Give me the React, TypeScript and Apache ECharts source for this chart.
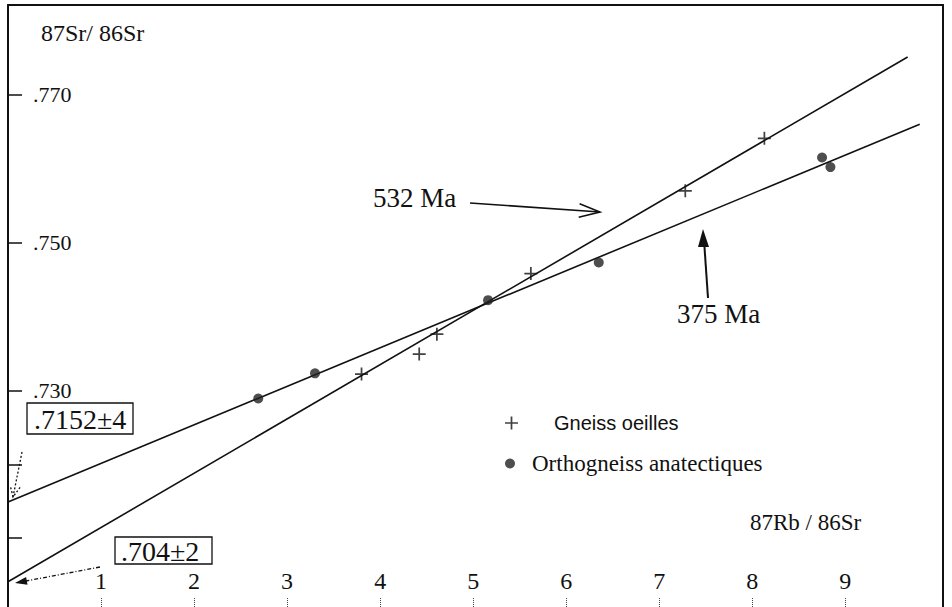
import React, { useEffect, useRef } from "react";
import * as echarts from "echarts";

// ---- data ----
const gneissX = [3.8, 4.42, 4.61, 5.62, 7.28, 8.13];
const gneissY = [0.7322, 0.7349, 0.7376, 0.7458, 0.757, 0.7641];

const orthoX = [2.69, 3.3, 5.16, 6.35, 8.75, 8.84];
const orthoY = [0.7289, 0.7323, 0.7422, 0.7473, 0.7615, 0.7602];

const iso532X = [0, 9.67];
const iso532Y = [0.7041, 0.7751];
const iso375X = [0, 9.8];
const iso375Y = [0.7149, 0.766];

const xTickValues = [1, 2, 3, 4, 5, 6, 7, 8, 9];
const yTickValues = [0.71, 0.72, 0.73, 0.75, 0.77];
const yLabelValues = [0.73, 0.75, 0.77];

const X_MIN = 0;
const X_MAX = 10.05;
const Y_MIN = 0.70069;
const Y_MAX = 0.78213;

const SERIF = '"Liberation Serif", "Times New Roman", serif';
const SANS = '"Liberation Sans", Arial, sans-serif';
const INK = "#111";

const PLUS = "path://M5.2,0H6.8V5.2H12V6.8H6.8V12H5.2V6.8H0V5.2H5.2Z";

const zip = (xs: number[], ys: number[]) => xs.map((x, i) => [x, ys[i]]);

export default function App() {
  const ref = useRef<HTMLDivElement>(null);

  useEffect(() => {
    if (!ref.current) return;
    const chart = echarts.init(ref.current, null, { renderer: "svg" });

    const option: any = {
      animation: false,
      backgroundColor: "#fff",
      grid: { left: 8, right: 9, top: 5, bottom: 0, containLabel: false },
      xAxis: [
        {
          type: "value",
          min: X_MIN,
          max: X_MAX,
          position: "bottom",
          axisLine: { show: false, onZero: false },
          splitLine: { show: false },
          axisTick: {
            show: true,
            inside: true,
            length: 10,
            customValues: xTickValues,
            lineStyle: { color: "#444", width: 1, type: "dotted" },
          },
          axisLabel: {
            inside: true,
            margin: 14,
            customValues: xTickValues,
            fontFamily: SERIF,
            fontSize: 24,
            color: INK,
          },
        },
        {
          type: "value",
          min: X_MIN,
          max: X_MAX,
          position: "top",
          axisLine: { show: true, onZero: false, lineStyle: { color: INK, width: 2 } },
          axisTick: { show: false },
          axisLabel: { show: false },
          splitLine: { show: false },
        },
      ],
      yAxis: [
        {
          type: "value",
          min: Y_MIN,
          max: Y_MAX,
          position: "left",
          axisLine: { show: true, onZero: false, lineStyle: { color: INK, width: 2 } },
          splitLine: { show: false },
          axisTick: {
            show: true,
            inside: true,
            length: 14,
            customValues: yTickValues,
            lineStyle: { color: INK, width: 1.5 },
          },
          axisLabel: {
            inside: true,
            margin: 25,
            customValues: yLabelValues,
            formatter: (v: number) => v.toFixed(3).replace(/^0/, ""),
            fontFamily: SERIF,
            fontSize: 22,
            color: INK,
          },
        },
        {
          type: "value",
          min: Y_MIN,
          max: Y_MAX,
          position: "right",
          axisLine: { show: true, onZero: false, lineStyle: { color: INK, width: 2 } },
          axisTick: { show: false },
          axisLabel: { show: false },
          splitLine: { show: false },
        },
      ],
      legend: [
        {
          data: [{ name: "Gneiss oeilles", icon: PLUS }],
          left: 505,
          top: 413,
          padding: 0,
          itemWidth: 13,
          itemHeight: 13,
          selectedMode: false,
          textStyle: { fontFamily: SANS, fontSize: 20, color: INK, padding: [0, 0, 0, 31] },
        },
        {
          data: [{ name: "Orthogneiss anatectiques", icon: "circle" }],
          left: 505,
          top: 452,
          padding: 0,
          itemWidth: 10,
          itemHeight: 10,
          selectedMode: false,
          textStyle: { fontFamily: SERIF, fontSize: 23, color: INK, padding: [0, 0, 0, 12] },
        },
      ],
      series: [
        {
          type: "line",
          name: "532 Ma",
          data: zip(iso532X, iso532Y),
          symbol: "none",
          lineStyle: { color: INK, width: 1.6 },
          silent: true,
          z: 2,
        },
        {
          type: "line",
          name: "375 Ma",
          data: zip(iso375X, iso375Y),
          symbol: "none",
          lineStyle: { color: INK, width: 1.6 },
          silent: true,
          z: 2,
        },
        {
          type: "scatter",
          name: "Gneiss oeilles",
          data: zip(gneissX, gneissY),
          symbol: PLUS,
          symbolSize: 13,
          itemStyle: { color: INK },
          z: 3,
        },
        {
          type: "scatter",
          name: "Orthogneiss anatectiques",
          data: zip(orthoX, orthoY),
          symbol: "circle",
          symbolSize: 10,
          itemStyle: { color: "#222" },
          z: 3,
        },
      ],
      graphic: [
        // axis titles
        {
          type: "text",
          x: 41,
          y: 33,
          style: { text: "87Sr/ 86Sr", fontFamily: SERIF, fontSize: 24, fill: INK, verticalAlign: "middle" },
        },
        {
          type: "text",
          x: 750,
          y: 522,
          style: { text: "87Rb / 86Sr", fontFamily: SERIF, fontSize: 23, fill: INK, verticalAlign: "middle" },
        },
        // 532 Ma annotation
        {
          type: "text",
          x: 373,
          y: 198,
          style: { text: "532 Ma", fontFamily: SERIF, fontSize: 27, fill: INK, verticalAlign: "middle" },
        },
        {
          type: "line",
          shape: { x1: 470, y1: 203, x2: 600, y2: 212 },
          style: { stroke: INK, lineWidth: 1.6 },
        },
        {
          type: "polyline",
          shape: { points: [[579.6, 203.8], [600, 212], [578.7, 217.3]] },
          style: { stroke: INK, lineWidth: 1.6, fill: null },
        },
        // 375 Ma annotation
        {
          type: "text",
          x: 677,
          y: 314,
          style: { text: "375 Ma", fontFamily: SERIF, fontSize: 27, fill: INK, verticalAlign: "middle" },
        },
        {
          type: "line",
          shape: { x1: 708, y1: 298, x2: 704, y2: 240 },
          style: { stroke: INK, lineWidth: 2 },
        },
        {
          type: "polygon",
          shape: { points: [[703, 229], [698, 247], [709, 247]] },
          style: { fill: INK },
        },
        // initial ratio boxes
        {
          type: "rect",
          shape: { x: 27, y: 403, width: 106, height: 31 },
          style: { stroke: INK, lineWidth: 1.3, fill: "rgba(0,0,0,0)" },
        },
        {
          type: "text",
          x: 34,
          y: 419,
          style: { text: ".7152±4", fontFamily: SERIF, fontSize: 28, fill: INK, verticalAlign: "middle" },
        },
        {
          type: "line",
          shape: { x1: 22, y1: 452, x2: 13, y2: 497 },
          style: { stroke: INK, lineWidth: 1.3, lineDash: [2, 2] },
        },
        {
          type: "polyline",
          shape: { points: [[20.1, 487.3], [13, 497], [10.2, 485.4]] },
          style: { stroke: INK, lineWidth: 1.3, lineDash: [2, 2], fill: null },
        },
        {
          type: "rect",
          shape: { x: 115, y: 537, width: 97, height: 27 },
          style: { stroke: INK, lineWidth: 1.3, fill: "rgba(0,0,0,0)" },
        },
        {
          type: "text",
          x: 121,
          y: 551,
          style: { text: ".704±2", fontFamily: SERIF, fontSize: 28, fill: INK, verticalAlign: "middle" },
        },
        {
          type: "line",
          shape: { x1: 100, y1: 567, x2: 26, y2: 581 },
          style: { stroke: INK, lineWidth: 1.3, lineDash: [4, 2, 1, 2] },
        },
        {
          type: "polygon",
          shape: { points: [[15, 583], [27.5, 584.7], [26.1, 576.9]] },
          style: { fill: INK },
        },
      ],
    };

    chart.setOption(option);
    return () => chart.dispose();
  }, []);

  return (
    <div
      ref={ref}
      style={{ position: "absolute", left: 0, top: 0, width: 952, height: 607, background: "#fff" }}
    />
  );
}
